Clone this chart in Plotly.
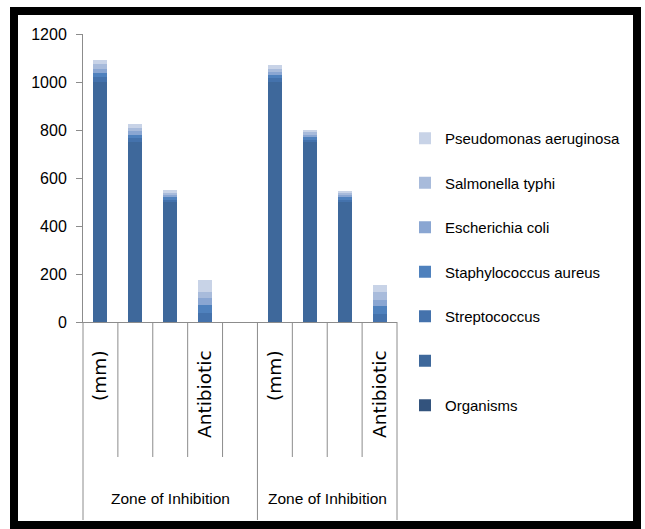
import plotly.graph_objects as go

# ---- data ----
sub_labels = ["(mm)", "", "", "Antibiotic", "", "(mm)", "", "", "Antibiotic"]
group_labels = ["Zone of Inhibition", "Zone of Inhibition"]
group_sizes = [5, 4]

series_names = ["Organisms", "", "Streptococcus", "Staphylococcus aureus",
                "Escherichia coli", "Salmonella typhi", "Pseudomonas aeruginosa"]
organisms = [0, 0, 0, 0, 0, 0, 0, 0, 0]
blank = [1000, 750, 500, 0, 0, 1000, 750, 500, 0]
streptococcus = [20, 16, 10, 37, 0, 15, 10, 10, 35]
staphylococcus = [18, 15, 10, 32, 0, 14, 10, 9, 32]
ecoli = [17, 14, 9, 32, 0, 14, 10, 9, 26]
salmonella = [18, 14, 9, 24, 0, 13, 10, 9, 32]
pseudomonas = [19, 15, 10, 52, 0, 14, 10, 9, 31]
y_ticks = [0, 200, 400, 600, 800, 1000, 1200]

series_values = [organisms, blank, streptococcus, staphylococcus, ecoli, salmonella, pseudomonas]
colors = ["#33537D", "#3E689B", "#4472AC", "#4F81BD", "#8AA6D2", "#A8BBDB", "#C8D3E7"]

n = len(sub_labels)
xs = list(range(n))
nser = len(series_names)

fig = go.Figure()
for i, (name, vals) in enumerate(zip(series_names, series_values)):
    fig.add_trace(go.Bar(
        x=xs, y=vals, name=name, legendgroup=f"g{i}", legendrank=nser - i,
        marker=dict(color=colors[i], line=dict(width=0)),
    ))

AXC = "#8C8C8C"
W, H = 645, 529
L, R, T, B = 83, 248, 34, 207
pw, ph = W - L - R, H - T - B
def px_x(X):
    return (X - L) / pw
def px_y(Y):
    return (H - B - Y) / ph

shapes = []
# category separators (long ticks)
bounds = [0]
for s in group_sizes:
    bounds.append(bounds[-1] + s)
for k in range(n + 1):
    full = k in bounds
    shapes.append(dict(type="line", xref="paper", yref="paper",
                       x0=k / n, x1=k / n, y0=0, y1=px_y(520) if full else px_y(457),
                       line=dict(color=AXC, width=1)))
# outer black frame
shapes.append(dict(type="rect", xref="paper", yref="paper",
                   x0=px_x(14), x1=px_x(637), y0=px_y(11), y1=px_y(525),
                   line=dict(color="black", width=8), fillcolor="rgba(0,0,0,0)", layer="above"))

annotations = []
start = 0
for g, s in zip(group_labels, group_sizes):
    center = start + (s - 1) / 2
    annotations.append(dict(x=center, y=px_y(498), xref="x", yref="paper",
                            xanchor="center", yanchor="middle",
                            text=g, showarrow=False,
                            font=dict(family="Liberation Sans", size=15.5, color="black")))
    start += s

fig.update_layout(
    width=W, height=H,
    margin=dict(l=L, r=R, t=T, b=B),
    paper_bgcolor="white", plot_bgcolor="white",
    barmode="stack", bargap=0.6,
    shapes=shapes, annotations=annotations,
    showlegend=True,
    legend=dict(
        x=px_x(405), y=px_y(122), xanchor="left", yanchor="top",
        traceorder="grouped", tracegroupgap=22, maxheight=420,
        font=dict(family="Liberation Sans", size=15, color="black"),
        itemwidth=30, bgcolor="rgba(0,0,0,0)",
    ),
    xaxis=dict(
        range=[-0.5, n - 0.5], tickvals=xs, ticktext=sub_labels,
        tickangle=-90, ticks="", showline=True, linecolor=AXC, linewidth=1,
        showgrid=False, zeroline=False, ticklabelstandoff=20,
        tickfont=dict(family="DejaVu Sans", size=18.5, color="black"),
    ),
    yaxis=dict(
        range=[0, 1200], tickvals=y_ticks, ticks="outside", ticklen=6,
        tickcolor=AXC, showline=True, linecolor=AXC, linewidth=1,
        showgrid=False, zeroline=False, ticklabelstandoff=6,
        tickfont=dict(family="Liberation Sans", size=16, color="black"),
    ),
)

fig.write_html("out.html", config={"displayModeBar": False},
               post_script="document.body.style.margin='0';")
